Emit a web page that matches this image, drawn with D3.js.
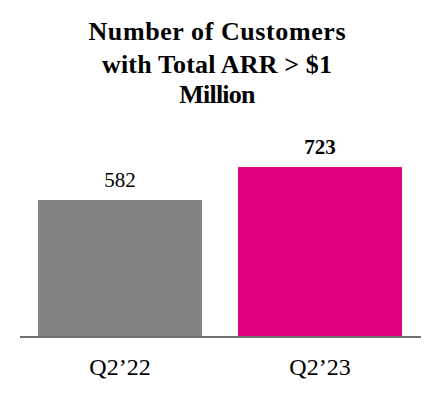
<!DOCTYPE html>
<html><head><meta charset="utf-8">
<script src="https://cdn.jsdelivr.net/npm/d3@7"></script>
<style>body{margin:0;background:#fff}</style>
</head><body>
<script>
const categories = ["Q2\u201922", "Q2\u201923"];
const values = [582, 723];
const titleLines = ["Number of Customers", "with Total ARR > $1", "Million"];
const colors = ["#838383", "#E0007F"];

const W = 440, H = 400;
const svg = d3.select("body").append("svg").attr("width", W).attr("height", H);
const baseY = 336;
const x = d3.scaleBand().domain(categories).range([20, 420]).paddingInner(0.18).paddingOuter(0.09);
const y = d3.scaleLinear().domain([0, 582]).range([baseY, 200]);

const font = "'Liberation Serif','Times New Roman',serif";
const titleWidths = [257, 230, null];

svg.append("g").selectAll("text").data(titleLines).join("text")
  .attr("x", 217).attr("y", (d, i) => [40, 73, 103][i])
  .attr("text-anchor", "middle").attr("font-family", font)
  .attr("font-weight", "bold").attr("font-size", 26).attr("fill", "#000")
  .attr("letter-spacing", (d, i) => i === 2 ? -0.8 : null)
  .attr("textLength", (d, i) => titleWidths[i])
  .text(d => d);

svg.append("g").selectAll("rect").data(values).join("rect")
  .attr("x", (d, i) => x(categories[i])).attr("width", x.bandwidth())
  .attr("y", d => y(d)).attr("height", d => baseY - y(d))
  .attr("fill", (d, i) => colors[i]);

svg.append("g").selectAll("text").data(values).join("text")
  .attr("x", (d, i) => x(categories[i]) + x.bandwidth() / 2)
  .attr("y", d => y(d) - 13)
  .attr("text-anchor", "middle").attr("font-family", font)
  .attr("font-size", 21).attr("font-weight", (d, i) => i === 1 ? "bold" : "normal")
  .attr("fill", "#000").text(d => d);

svg.append("line").attr("x1", 20).attr("x2", 421).attr("y1", baseY + 1).attr("y2", baseY + 1)
  .attr("stroke", "#6f6f6f").attr("stroke-width", 2);

const xAxis = d3.axisBottom(x).tickSize(0).tickPadding(0);
const gx = svg.append("g").attr("transform", `translate(0,${baseY})`).call(xAxis);
gx.select(".domain").remove();
gx.selectAll("text").attr("font-family", font).attr("font-size", 24).attr("fill", "#000")
  .attr("dy", null).attr("y", 39);
</script>
</body></html>
